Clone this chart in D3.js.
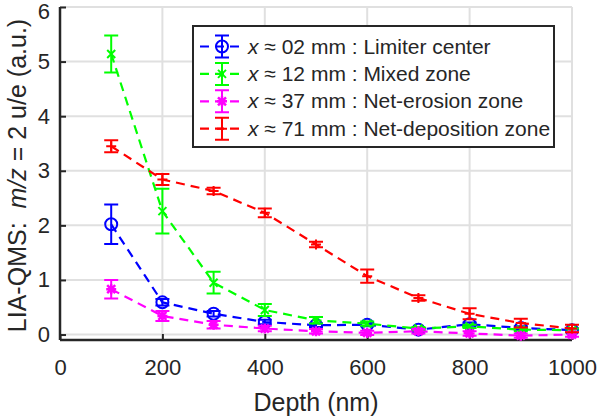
<!DOCTYPE html>
<html>
<head>
<meta charset="utf-8">
<script src="https://cdn.jsdelivr.net/npm/d3@7"></script>
<style>
  body { margin: 0; background: #fff; }
  text { font-family: "Liberation Sans", Arial, sans-serif; fill: #262626; }
</style>
</head>
<body>
<div id="container"></div>
<script>

  // depth values (nm)
  const depths = [100, 200, 300, 400, 500, 600, 700, 800, 900, 1000];

  // series values and errors
  const limiterVals = [2.02, 0.59, 0.38, 0.23, 0.17, 0.18, 0.09, 0.19, 0.12, 0.08];
  const limiterErr  = [0.36, 0.06, 0.05, 0.04, 0.03, 0.03, 0.03, 0.03, 0.03, 0.03];
  const mixedVals   = [5.14, 2.26, 0.95, 0.45, 0.26, 0.2, 0.11, 0.15, 0.09, 0.08];
  const mixedErr    = [0.34, 0.41, 0.2, 0.11, 0.06, 0.04, 0.03, 0.03, 0.03, 0.03];
  const erosionVals = [0.83, 0.34, 0.18, 0.11, 0.06, 0.03, 0.06, 0.02, -0.02, 0.0];
  const erosionErr  = [0.17, 0.09, 0.07, 0.05, 0.04, 0.04, 0.04, 0.04, 0.04, 0.04];
  const depoVals    = [3.45, 2.84, 2.63, 2.23, 1.65, 1.07, 0.67, 0.38, 0.21, 0.11];
  const depoErr     = [0.11, 0.1, 0.06, 0.08, 0.05, 0.12, 0.05, 0.1, 0.08, 0.07];

  const seriesNames = ["02 mm : Limiter center", "12 mm : Mixed zone",
                       "37 mm : Net-erosion zone", "71 mm : Net-deposition zone"];

  const xTicks = [0, 200, 400, 600, 800, 1000];
  const yTicks = [0, 1, 2, 3, 4, 5, 6];

  const width = 598, height = 419;
  const plotL = 60, plotR = 572, plotT = 7, plotB = 340;

  const x = d3.scaleLinear().domain([0, 1000]).range([plotL, plotR]);
  const y = d3.scaleLinear().domain([-0.1, 6]).range([plotB, plotT]);

  const series = [
    { name: seriesNames[0], vals: limiterVals, err: limiterErr, color: "#0000ff", marker: "circle" },
    { name: seriesNames[1], vals: mixedVals, err: mixedErr, color: "#00ff00", marker: "x" },
    { name: seriesNames[2], vals: erosionVals, err: erosionErr, color: "#ff00ff", marker: "star" },
    { name: seriesNames[3], vals: depoVals, err: depoErr, color: "#ff0000", marker: "plus" }
  ];

  const svg = d3.create("svg")
      .attr("width", width)
      .attr("height", height);

  // grid
  const grid = svg.append("g").attr("stroke", "#e0e0e0").attr("stroke-width", 2);
  xTicks.forEach(t => {
    grid.append("line").attr("x1", x(t)).attr("x2", x(t)).attr("y1", plotT).attr("y2", plotB);
  });
  yTicks.forEach(t => {
    grid.append("line").attr("x1", plotL).attr("x2", plotR).attr("y1", y(t)).attr("y2", y(t));
  });
  grid.append("line").attr("x1", plotL).attr("x2", plotR).attr("y1", plotT).attr("y2", plotT);

  // axes
  const xAxis = d3.axisBottom(x).tickValues(xTicks).tickFormat(d3.format("d"))
      .tickSizeInner(-6).tickSizeOuter(0).tickPadding(19);
  const yAxis = d3.axisLeft(y).tickValues(yTicks).tickFormat(d3.format("d"))
      .tickSizeInner(-6).tickSizeOuter(0).tickPadding(10);

  const gx = svg.append("g").attr("transform", `translate(0,${plotB})`).call(xAxis);
  const gy = svg.append("g").attr("transform", `translate(${plotL},0)`).call(yAxis);
  [gx, gy].forEach(g => {
    g.select(".domain").attr("stroke", "#262626").attr("stroke-width", 2.5);
    g.selectAll(".tick line").attr("stroke", "#262626").attr("stroke-width", 2);
    g.selectAll(".tick text").attr("font-size", 22)
      .attr("font-family", "Liberation Sans, Arial, sans-serif").attr("fill", "#262626");
  });
  // keep the top label inside the picture
  gy.selectAll(".tick text").filter(d => d === 6).attr("dy", "0.5em");
  gy.select(".domain").attr("d", `M0,${plotB}V${plotT}`);
  gx.select(".domain").attr("d", `M${plotL},0H${plotR}`);

  // axis labels
  svg.append("text")
      .attr("x", (plotL + plotR) / 2)
      .attr("y", 411)
      .attr("text-anchor", "middle")
      .attr("font-size", 25)
      .text("Depth (nm)");

  const yl = svg.append("text")
      .attr("transform", `translate(26,${(plotT + plotB) / 2 + 2}) rotate(-90)`)
      .attr("text-anchor", "middle")
      .attr("font-size", 25);
  yl.append("tspan").text("LIA-QMS:\u00a0\u00a0");
  yl.append("tspan").attr("font-style", "italic").text("m/z");
  yl.append("tspan").text("\u00a0= 2 u/e (a.u.)");

  // marker drawing
  function drawMarker(g, type, cx, cy, color) {
    if (type === "circle") {
      g.append("circle").attr("cx", cx).attr("cy", cy).attr("r", 6)
        .attr("fill", "none").attr("stroke", color).attr("stroke-width", 2);
    } else if (type === "x") {
      const s = 4;
      g.append("path").attr("d", `M${cx - s},${cy - s}L${cx + s},${cy + s}M${cx - s},${cy + s}L${cx + s},${cy - s}`)
        .attr("stroke", color).attr("stroke-width", 2);
    } else if (type === "star") {
      const s = 5;
      g.append("path").attr("d", `M${cx - s},${cy}H${cx + s}M${cx},${cy - s}V${cy + s}M${cx - 4},${cy - 4}L${cx + 4},${cy + 4}M${cx - 4},${cy + 4}L${cx + 4},${cy - 4}`)
        .attr("stroke", color).attr("stroke-width", 2.5);
    } else if (type === "plus") {
      const s = 5;
      g.append("path").attr("d", `M${cx - s},${cy}H${cx + s}M${cx},${cy - s}V${cy + s}`)
        .attr("stroke", color).attr("stroke-width", 2);
    }
  }

  function drawErrorBar(g, cx, y0, y1, color) {
    const c = 7;
    g.append("path")
      .attr("d", `M${cx},${y0}V${y1}M${cx - c},${y0}H${cx + c}M${cx - c},${y1}H${cx + c}`)
      .attr("stroke", color).attr("stroke-width", 2).attr("fill", "none");
  }

  const line = d3.line().x(d => x(d[0])).y(d => y(d[1]));

  series.forEach(s => {
    const g = svg.append("g");
    const pts = depths.map((d, i) => [d, s.vals[i], s.err[i]]);
    g.append("path")
      .attr("d", line(pts))
      .attr("fill", "none")
      .attr("stroke", s.color)
      .attr("stroke-width", 2.2)
      .attr("stroke-dasharray", "9,6");
    pts.forEach(p => {
      drawErrorBar(g, x(p[0]), y(p[1] - p[2]), y(p[1] + p[2]), s.color);
      drawMarker(g, s.marker, x(p[0]), y(p[1]), s.color);
    });
  });

  // legend
  const lg = svg.append("g");
  lg.append("rect")
      .attr("x", 193).attr("y", 26).attr("width", 361).attr("height", 121)
      .attr("fill", "#fff").attr("stroke", "#262626").attr("stroke-width", 2);
  series.forEach((s, i) => {
    const cy = 46.5 + i * 27.4;
    lg.append("line").attr("x1", 200).attr("x2", 242).attr("y1", cy).attr("y2", cy)
      .attr("stroke", s.color).attr("stroke-width", 2.2).attr("stroke-dasharray", "9,6");
    drawErrorBar(lg, 222, cy - 11, cy + 11, s.color);
    drawMarker(lg, s.marker, 222, cy, s.color);
    const t = lg.append("text").attr("x", 248).attr("y", cy + 7).attr("font-size", 21);
    t.append("tspan").attr("font-style", "italic").text("x");
    t.append("tspan").text("\u00a0\u2248 " + s.name);
  });

  container.append(svg.node());

</script>
</body>
</html>
